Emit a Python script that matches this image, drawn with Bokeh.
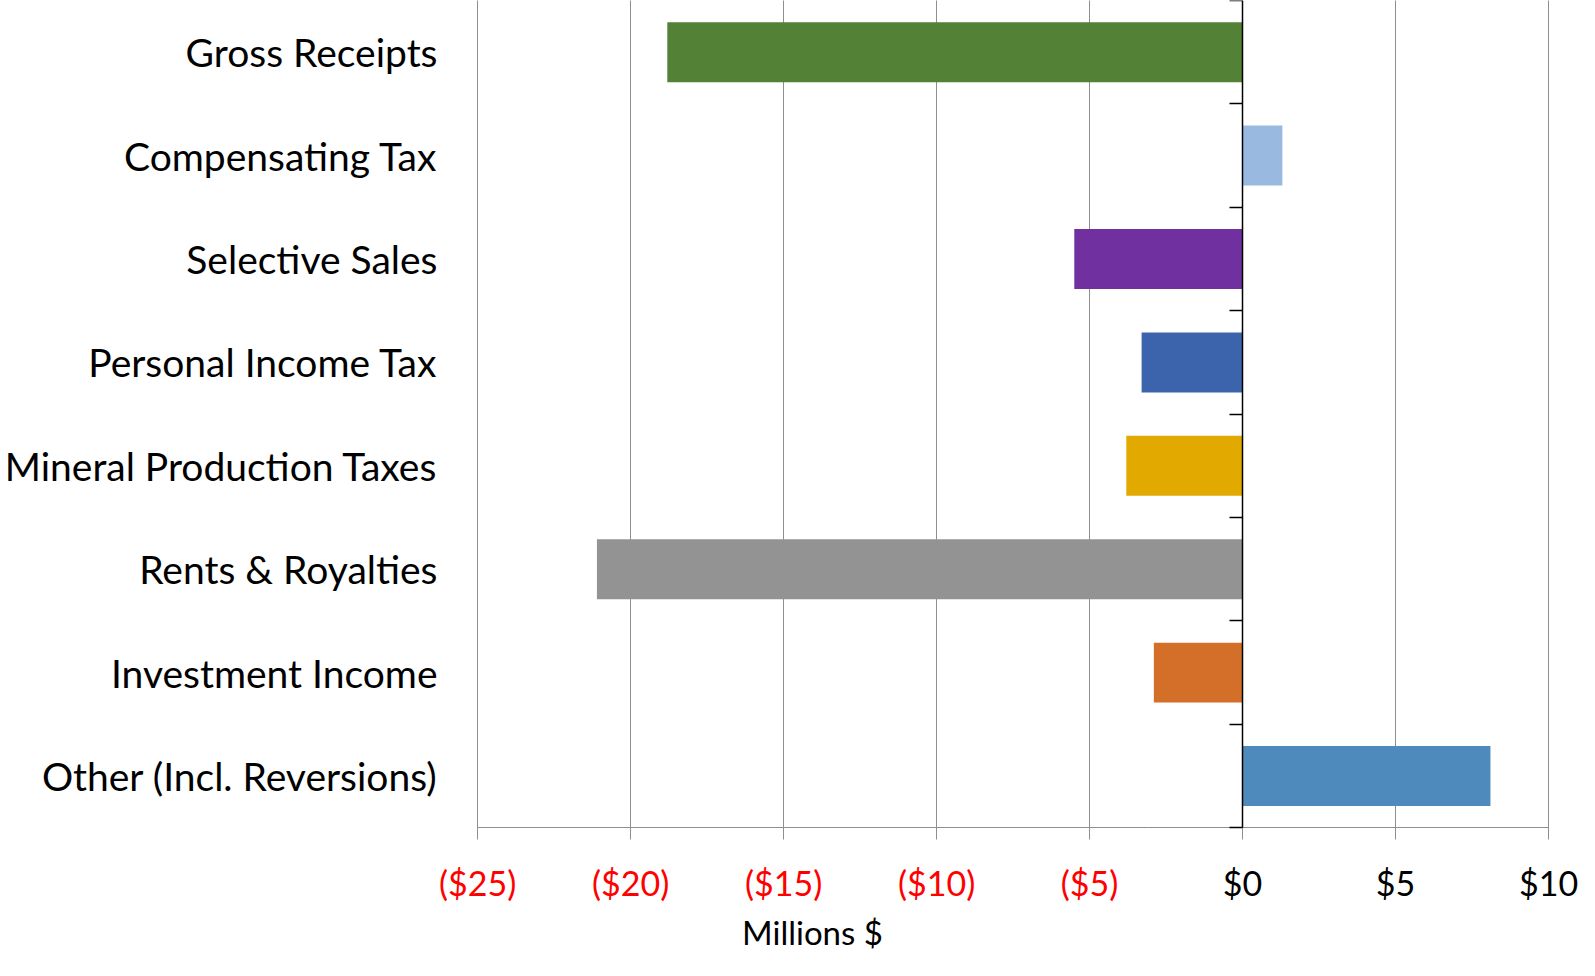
from bokeh.plotting import figure
from bokeh.models import (Range1d, LinearAxis, FixedTicker,
                          CustomJSTickFormatter, ColumnDataSource)
from bokeh.embed import file_html
from bokeh.resources import INLINE

categories = ["Gross Receipts", "Compensating Tax", "Selective Sales",
              "Personal Income Tax", "Mineral Production Taxes",
              "Rents & Royalties", "Investment Income", "Other (Incl. Reversions)"]
values = [-18.8, 1.3, -5.5, -3.3, -3.8, -21.1, -2.9, 8.1]
colors = ["#538135", "#9AB9E0", "#7030A0", "#3C64AC", "#E2AA00",
          "#939393", "#D46F2A", "#4F8ABD"]
neg_ticks = [-25, -20, -15, -10, -5]
pos_ticks = [0, 5, 10]
x_title = "Millions $"

FONT = "Lato"
GRID = "#8f8f8f"

n = len(categories)
ypos = [n - 0.5 - i for i in range(n)]  # first category at top
src = ColumnDataSource(dict(y=ypos, cat=categories, val=values, color=colors))

# frame extends below / beside the plot area so that the bottom axis (fixed at y=0)
# and its labels are not clipped
p = figure(width=1579, height=960, output_backend="svg", toolbar_location=None,
           y_range=Range1d(-1.284, n), x_range=Range1d(-26.31, 11.01),
           x_axis_location=None, y_axis_location=None,
           min_border_left=437, min_border_right=0, min_border_top=0,
           min_border_bottom=0)
p.outline_line_color = None
p.background_fill_color = "white"
p.border_fill_color = "white"
p.xgrid.visible = False
p.ygrid.visible = False

p.hbar(y="y", left=0, right="val", height=0.58, color="color",
       line_color=None, source=src)

# category axis (labels only)
yax = LinearAxis(ticker=FixedTicker(ticks=ypos),
                 major_label_overrides={y: c for y, c in zip(ypos, categories)},
                 axis_line_color=None, major_tick_line_color=None,
                 minor_tick_line_color=None,
                 major_tick_out=0, major_tick_in=0, major_label_standoff=0,
                 major_label_text_font=FONT, major_label_text_font_size="39px",
                 major_label_text_color="black")
p.add_layout(yax, "left")

# bottom axes at y = 0: negative (red) and non-negative (black) labels;
# their long inward ticks serve as the vertical gridlines (behind the bars)
common = dict(fixed_location=0, axis_line_color=GRID, axis_line_width=1,
              major_tick_line_color=GRID, major_tick_out=12, major_tick_in=900,
              minor_tick_line_color=None, major_label_standoff=22,
              major_label_text_font=FONT, major_label_text_font_size="34px",
              level="underlay")
ax_neg = LinearAxis(ticker=FixedTicker(ticks=neg_ticks), bounds=(-25, -3.1),
                    formatter=CustomJSTickFormatter(code="return '($' + Math.abs(tick) + ')'"),
                    major_label_text_color="red",
                    axis_label=x_title, axis_label_text_font=FONT,
                    axis_label_text_font_style="normal",
                    axis_label_text_font_size="33px", axis_label_text_color="black",
                    axis_label_standoff=6, **common)
ax_pos = LinearAxis(ticker=FixedTicker(ticks=pos_ticks), bounds=(-3.1, 10),
                    formatter=CustomJSTickFormatter(code="return '$' + tick"),
                    major_label_text_color="black", **common)
p.add_layout(ax_neg, "below")
p.add_layout(ax_pos, "below")

# zero axis with ticks at category boundaries (drawn over the bars)
zax = LinearAxis(fixed_location=0, bounds=(0, n),
                 ticker=FixedTicker(ticks=list(range(n + 1))),
                 formatter=CustomJSTickFormatter(code="return ''"),
                 axis_line_color="black", axis_line_width=1.5,
                 major_tick_line_color="black", major_tick_line_width=1.5,
                 major_tick_out=13, major_tick_in=0,
                 minor_tick_line_color=None, major_label_text_font_size="0px")
p.add_layout(zax, "left")

open("out.html", "w").write(file_html(p, INLINE))
